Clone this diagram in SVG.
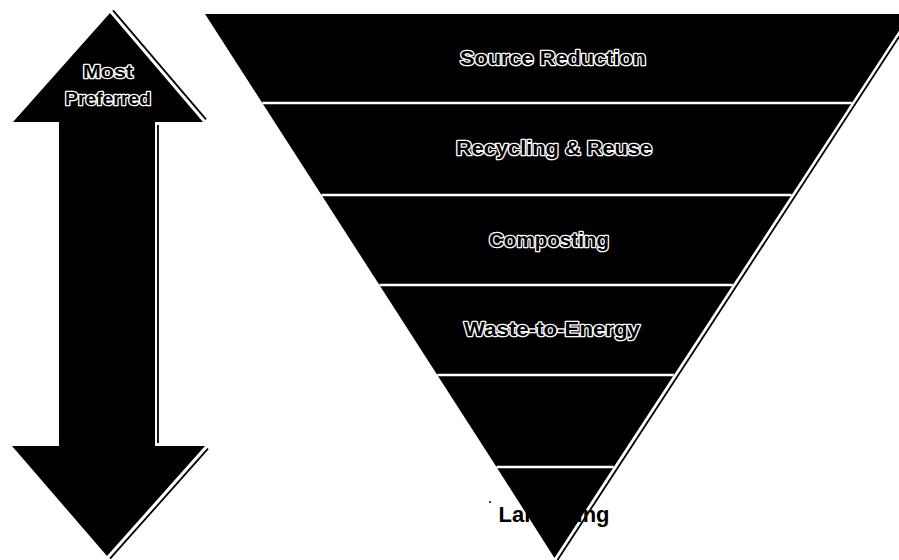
<svg xmlns="http://www.w3.org/2000/svg" width="899" height="560" viewBox="0 0 899 560">
<style>
.band{fill:#000;}
.div{stroke:#fff;stroke-width:2.5;}
.edge{stroke:#000;stroke-width:1.8;fill:none;}
.lbl{font-family:"Liberation Sans",Arial,sans-serif;font-weight:bold;fill:#000;stroke:#fff;stroke-width:2.6;stroke-linejoin:round;paint-order:stroke;text-anchor:middle;}
.plain{font-family:"Liberation Sans",Arial,sans-serif;font-weight:bold;fill:#000;text-anchor:middle;}
</style>
<rect width="899" height="560" fill="#fff"/>
<g id="landfilling-label">
<text class="plain" x="554" y="522" font-size="22" textLength="111" lengthAdjust="spacingAndGlyphs">Landfilling</text>
<circle cx="490" cy="502" r="1" fill="#000"/>
</g>
<g id="arrow">
<polygon class="band" points="110,13 203,122 155,122 155,446 205,446 107,556 12,446 59,446 59,122 13,122"/>
<text class="lbl" x="108" y="78" font-size="19" textLength="50" lengthAdjust="spacingAndGlyphs">Most</text>
<text class="lbl" x="108" y="105" font-size="19" textLength="86" lengthAdjust="spacingAndGlyphs">Preferred</text>
</g>
<g id="source-reduction">
<polygon class="band" points="205,14 910,14 851.8,103 262.3,103"/>
<text class="lbl" x="553" y="65" font-size="21" textLength="186" lengthAdjust="spacingAndGlyphs">Source Reduction</text>
</g>
<g id="recycling-reuse">
<polygon class="band" points="262.3,103 851.8,103 791.6,195 321.5,195"/>
<text class="lbl" x="554" y="155" font-size="21" textLength="196" lengthAdjust="spacingAndGlyphs">Recycling &amp; Reuse</text>
</g>
<g id="composting">
<polygon class="band" points="321.5,195 791.6,195 732.8,285 379.4,285"/>
<text class="lbl" x="549" y="247" font-size="21" textLength="120" lengthAdjust="spacingAndGlyphs">Composting</text>
</g>
<g id="waste-to-energy">
<polygon class="band" points="379.4,285 732.8,285 673.9,375 437.3,375"/>
<text class="lbl" x="552" y="336" font-size="21" textLength="176" lengthAdjust="spacingAndGlyphs">Waste-to-Energy</text>
</g>
<g id="tier-5">
<polygon class="band" points="437.3,375 673.9,375 613.7,467 496.5,467"/>
</g>
<g id="tier-6">
<polygon class="band" points="496.5,467 613.7,467 554.5,558"/>
</g>
<g id="connectors">
<line class="div" x1="262.3" y1="103" x2="851.8" y2="103"/>
<line class="div" x1="321.5" y1="195" x2="791.6" y2="195"/>
<line class="div" x1="379.4" y1="285" x2="732.8" y2="285"/>
<line class="div" x1="437.3" y1="375" x2="673.9" y2="375"/>
<line class="div" x1="496.5" y1="467" x2="613.7" y2="467"/>
<line class="edge" x1="914" y1="14" x2="557.5" y2="560"/>
<line class="edge" x1="113" y1="10.4" x2="206" y2="119.4"/>
<line class="edge" x1="158" y1="125" x2="158" y2="443"/>
<line class="edge" x1="208" y1="448.7" x2="110" y2="558.7"/>
</g>
</svg>
